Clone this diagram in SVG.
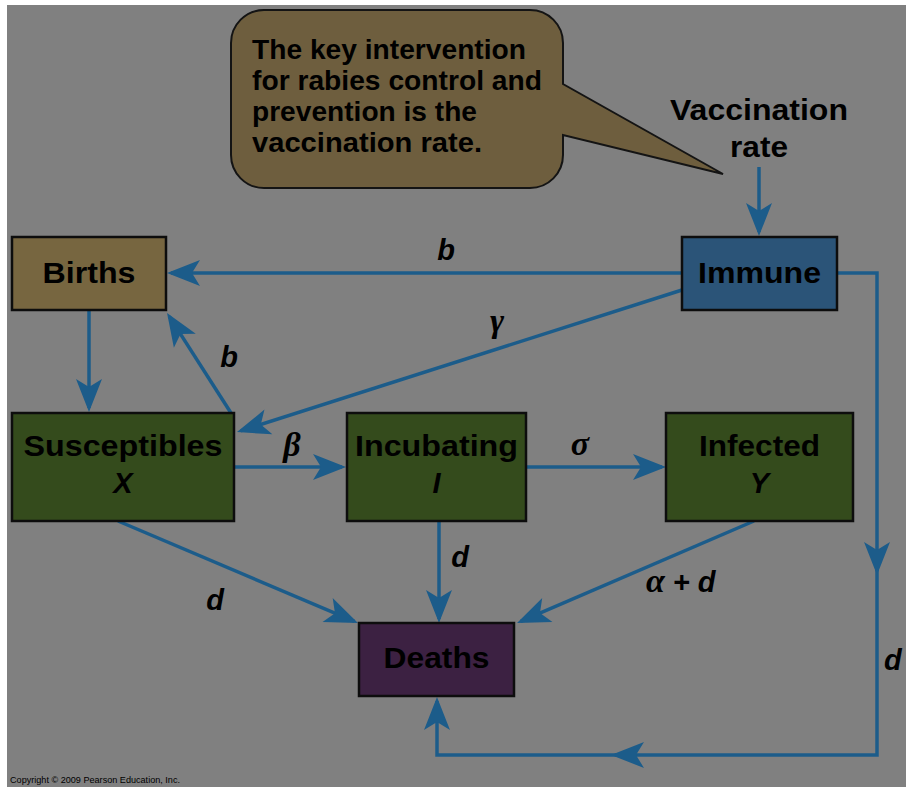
<svg xmlns="http://www.w3.org/2000/svg" width="906" height="787" viewBox="0 0 906 787">
<defs>
<style>
.box{stroke:#0d0d0d;stroke-width:2.5}
.lbl{font-family:"Liberation Sans",Arial,sans-serif;font-weight:bold;font-size:29px;fill:#000;text-anchor:middle}
.var{font-family:"Liberation Sans",Arial,sans-serif;font-weight:bold;font-style:italic;font-size:29px;fill:#000}
.grk{font-family:"Liberation Serif","Times New Roman",serif;font-weight:bold;font-style:italic;font-size:34px;fill:#000}
.call{font-family:"Liberation Sans",Arial,sans-serif;font-weight:bold;font-size:27px;fill:#000}
.con{fill:none;stroke:#1c5c8a;stroke-width:3.5}
</style>
<marker id="ah" markerUnits="userSpaceOnUse" viewBox="-30 -14 35 28" refX="0" refY="0" markerWidth="35" markerHeight="28" orient="auto">
<path d="M4,0 L-29,-13 L-21,0 L-29,13 Z" fill="#1c5c8a"/>
</marker>
</defs>
<rect x="0" y="0" width="906" height="787" fill="#ffffff"/>
<rect x="7" y="5" width="899" height="782" fill="#808080"/>

<g id="callout">
<path d="M264,10 H530 A33,33 0 0 1 563,43 V84 L723,174 L563,135 V155 A33,33 0 0 1 530,188 H264 A33,33 0 0 1 231,155 V43 A33,33 0 0 1 264,10 Z" fill="#6e5e3e" stroke="#141414" stroke-width="2"/>
<text class="call" x="252" y="59" textLength="274" lengthAdjust="spacingAndGlyphs">The key intervention</text>
<text class="call" x="252" y="90" textLength="290" lengthAdjust="spacingAndGlyphs">for rabies control and</text>
<text class="call" x="252" y="121" textLength="225" lengthAdjust="spacingAndGlyphs">prevention is the</text>
<text class="call" x="252" y="152" textLength="230" lengthAdjust="spacingAndGlyphs">vaccination rate.</text>
</g>

<g id="vaccination">
<text class="lbl" x="759" y="120" textLength="178" lengthAdjust="spacingAndGlyphs">Vaccination</text>
<text class="lbl" x="759" y="157" textLength="58" lengthAdjust="spacingAndGlyphs">rate</text>
</g>

<g id="connectors">
<path class="con" d="M759,167 V232" marker-end="url(#ah)"/>
<path class="con" d="M682,273 H171" marker-end="url(#ah)"/>
<path class="con" d="M89,310 V408" marker-end="url(#ah)"/>
<path class="con" d="M231,413 L169.2,316.4" marker-end="url(#ah)"/>
<path class="con" d="M682,290 L240.8,430.8" marker-end="url(#ah)"/>
<path class="con" d="M234,467 H342" marker-end="url(#ah)"/>
<path class="con" d="M526,467 H662" marker-end="url(#ah)"/>
<path class="con" d="M118,521 L354.3,621.4" marker-end="url(#ah)"/>
<path class="con" d="M439,521 V619" marker-end="url(#ah)"/>
<path class="con" d="M754,521 L520.7,621.4" marker-end="url(#ah)"/>
<path class="con" d="M837,273 H877 V571" marker-end="url(#ah)"/>
<path class="con" d="M877,570 V755 H615" marker-end="url(#ah)"/>
<path class="con" d="M616,755 H437 V701" marker-end="url(#ah)"/>
<text class="var" x="446" y="260" text-anchor="middle">b</text>
<text class="var" x="229" y="367" text-anchor="middle">b</text>
<text class="grk" x="497" y="332" text-anchor="middle" font-size="40">γ</text>
<text class="grk" x="292" y="456" text-anchor="middle">β</text>
<text class="grk" x="580" y="455" text-anchor="middle">σ</text>
<text class="var" x="460" y="567" text-anchor="middle">d</text>
<text class="var" x="215" y="610" text-anchor="middle">d</text>
<text x="646" y="592" class="var"><tspan class="grk">α</tspan> + d</text>
<text class="var" x="884" y="670">d</text>
</g>

<g id="births">
<rect class="box" x="12" y="237" width="154" height="73" fill="#776640"/>
<text class="lbl" x="89" y="283" textLength="93" lengthAdjust="spacingAndGlyphs">Births</text>
</g>
<g id="immune">
<rect class="box" x="682" y="237" width="155" height="73" fill="#2b5478"/>
<text class="lbl" x="759.5" y="283" textLength="123" lengthAdjust="spacingAndGlyphs">Immune</text>
</g>
<g id="susceptibles">
<rect class="box" x="12" y="413" width="222" height="108" fill="#344b1c"/>
<text class="lbl" x="123" y="456" textLength="199" lengthAdjust="spacingAndGlyphs">Susceptibles</text>
<text class="var" x="123" y="493" text-anchor="middle">X</text>
</g>
<g id="incubating">
<rect class="box" x="347" y="413" width="179" height="108" fill="#344b1c"/>
<text class="lbl" x="436.5" y="456" textLength="163" lengthAdjust="spacingAndGlyphs">Incubating</text>
<text class="var" x="436.5" y="493" text-anchor="middle">I</text>
</g>
<g id="infected">
<rect class="box" x="666" y="413" width="187" height="108" fill="#344b1c"/>
<text class="lbl" x="759.5" y="456" textLength="121" lengthAdjust="spacingAndGlyphs">Infected</text>
<text class="var" x="759.5" y="493" text-anchor="middle">Y</text>
</g>
<g id="deaths">
<rect class="box" x="359" y="623" width="155" height="73" fill="#3c2142"/>
<text class="lbl" x="436.5" y="668" textLength="106" lengthAdjust="spacingAndGlyphs">Deaths</text>
</g>

<text x="10" y="783" font-family="'Liberation Sans',Arial,sans-serif" font-size="9" fill="#000" textLength="170" lengthAdjust="spacingAndGlyphs">Copyright © 2009 Pearson Education, Inc.</text>
</svg>
